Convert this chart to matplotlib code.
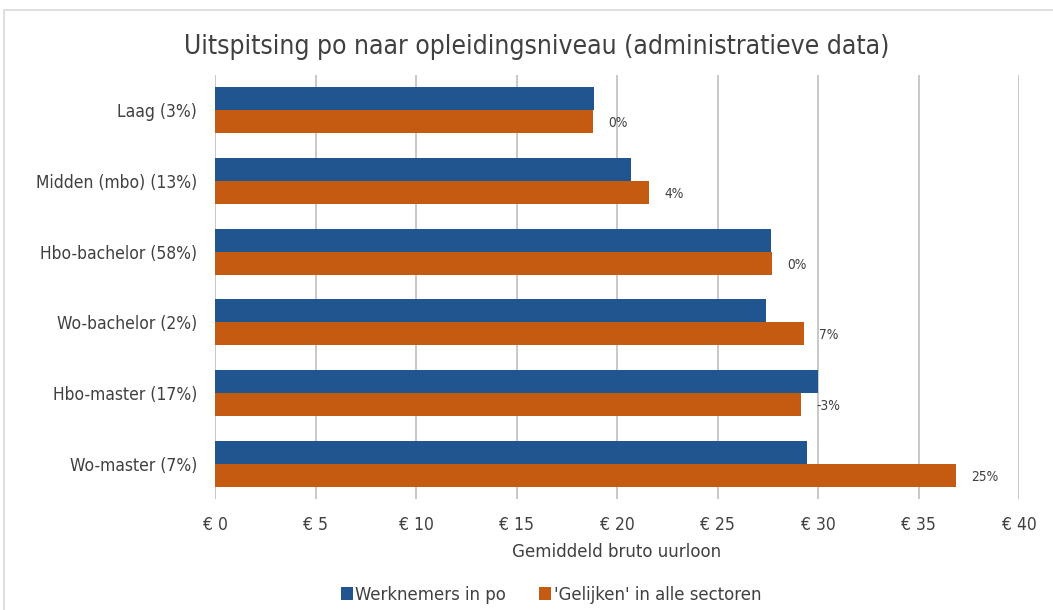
"""
    Uitspitsing po naar opleidingsniveau - horizontal bar chart
"""

import matplotlib
matplotlib.use('Agg')
import matplotlib.pyplot as plt
import numpy as np
from matplotlib.ticker import FuncFormatter
from matplotlib.patches import Rectangle

categories = ['Laag (3%)', 'Midden (mbo) (13%)', 'Hbo-bachelor (58%)',
              'Wo-bachelor (2%)', 'Hbo-master (17%)', 'Wo-master (7%)']
werknemers_po = [18.86, 20.7, 27.66, 27.4, 30.0, 29.45]
gelijken = [18.8, 21.6, 27.7, 29.3, 29.15, 36.87]
verschil = ['0%', '4%', '0%', '7%', '-3%', '25%']
series_names = ['Werknemers in po', "'Gelijken' in alle sectoren"]

blue = '#215590'
orange = '#C55A11'
textcol = '#404040'
gridcol = '#C8C8C8'

# condensed DejaVu comes closest to the narrow font of the original
plt.rcParams['font.family'] = ['DejaVu Sans']
plt.rcParams['font.stretch'] = 'condensed'

W, H = 1053, 610
fig = plt.figure(figsize=(W / 100, H / 100), dpi=100)

# outer chart frame (cropped on the right and bottom)
fig.patches.append(Rectangle((4 / W, -0.1), 1.2, (H - 10) / H + 0.1,
                             transform=fig.transFigure, fill=False,
                             edgecolor='#D9D9D9', linewidth=1.2))

ax = fig.add_axes([215 / W, (H - 499) / H, (1019 - 215) / W, (499 - 75) / H])

y = np.arange(len(categories))
h = 0.325
ax.barh(y - h / 2, werknemers_po, height=h, color=blue, label=series_names[0], zorder=3)
ax.barh(y + h / 2, gelijken, height=h, color=orange, label=series_names[1], zorder=3)

# difference labels next to the orange bar
for i in range(len(categories)):
    ax.annotate(verschil[i], xy=(gelijken[i], y[i] + h / 2 + 0.02), xytext=(11, 0),
                textcoords='offset points', ha='left', va='center',
                fontsize=9.8, color=textcol)

ax.set_xlim(0, 40)
ax.set_ylim(len(categories) - 0.5, -0.5)
ax.set_xticks(range(0, 41, 5))
ax.xaxis.set_major_formatter(FuncFormatter(lambda v, pos: '€ %d' % v))
ax.set_yticks(y)
ax.set_yticklabels(categories)
ax.grid(axis='x', color=gridcol, linewidth=1.4, zorder=0)
ax.tick_params(axis='both', length=0, labelsize=12.5, colors=textcol)
ax.tick_params(axis='x', pad=12)
ax.tick_params(axis='y', pad=13)
for s in ax.spines.values():
    s.set_visible(False)

ax.set_xlabel('Gemiddeld bruto uurloon', fontsize=13.3, color=textcol, labelpad=7)

fig.text(537 / W, (H - 47) / H, 'Uitspitsing po naar opleidingsniveau (administratieve data)',
         ha='center', va='center', fontsize=19, color=textcol)

fig.legend(loc='center', bbox_to_anchor=(551 / W, (H - 595) / H), ncol=2,
           frameon=False, fontsize=13.2, labelcolor=textcol,
           handlelength=0.65, handleheight=0.65, handletextpad=0.15, columnspacing=1.8)

plt.savefig('out.png', dpi=100)
